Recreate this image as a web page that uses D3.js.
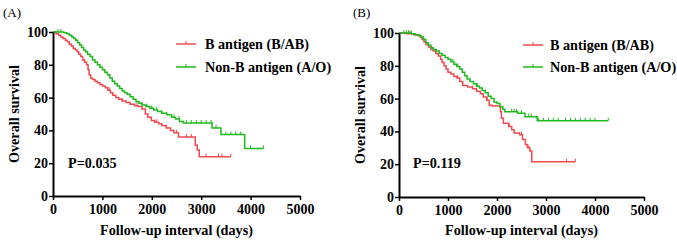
<!DOCTYPE html>
<html><head><meta charset="utf-8">
<script src="https://cdn.jsdelivr.net/npm/d3@7"></script>
<style>
body{margin:0;background:#fff;}
svg{display:block;font-family:"Liberation Serif","Times New Roman",serif;}
</style></head>
<body><svg id="c" width="677" height="241"></svg>
<script>
const xTicks=[0,1000,2000,3000,4000,5000];
const yTicks=[0,20,40,60,80,100];
const seriesNames=["B antigen (B/AB)","Non-B antigen (A/O)"];
const seriesColors=["#ee4a50","#1fb81f"];
const panelLabels=["(A)","(B)"];
const pValues=["P=0.035","P=0.119"];

// Panel A
const aRedSteps=[[0,100],[60,99],[110,98],[160,97],[200,96],[250,95],[290,94],[330,92.5],[370,91.5],[410,90],[450,89],[490,88],[520,86.5],[560,85],[600,83],[640,81.5],[680,80],[710,77],[730,74],[760,72],[800,71],[850,70],[900,69],[950,68],[1000,67],[1060,66],[1110,64.5],[1160,63],[1210,61.5],[1270,60],[1330,59],[1400,58],[1480,57],[1560,56],[1650,55],[1720,54.5],[1800,53],[1870,50],[1920,48],[1990,46],[2060,45],[2140,44],[2200,43],[2290,41.5],[2380,40],[2450,38.5],[2540,36],[2880,31],[2920,28],[2960,24]];
const aRedEnd=3600;
const aRedCens=[1150,1400,1700,2100,2300,2500,2700,2800,3100,3350,3420,3600];
const aGreenSteps=[[0,100],[220,99.5],[280,99],[330,98],[380,97],[420,96],[460,95],[500,93.5],[540,92],[580,90.5],[620,89],[660,88],[700,86.5],[750,85],[800,83],[850,81.5],[900,80],[950,78.5],[1000,77],[1050,75.5],[1100,74],[1150,72],[1200,70],[1250,68.5],[1300,67],[1350,65.5],[1400,64],[1450,63],[1500,62],[1560,60.5],[1620,59],[1680,57.5],[1740,56.5],[1800,55.5],[1880,54.5],[1960,53.5],[2040,52.5],[2120,51.5],[2200,50.5],[2300,49.5],[2400,48],[2480,47],[2560,45.5],[2640,44.5],[3220,41.5],[3400,37.5],[3880,29]];
const aGreenEnd=4260;
const aGreenCens=[100,160,1800,1900,2000,2100,2200,2300,2450,2550,2700,2800,2900,3000,3100,3200,3300,3500,3600,3700,3800,4000,4260];

// Panel B
const bRedSteps=[[0,100],[150,99.5],[300,99],[380,98.5],[430,97.5],[470,96],[510,94.5],[550,93],[600,91.5],[650,90],[700,89],[750,87.5],[800,86],[850,84],[880,82],[920,80],[960,78],[1000,76],[1060,75],[1120,73.5],[1180,72.5],[1240,70.5],[1300,68],[1400,67],[1500,66],[1580,64.5],[1660,63],[1720,61],[1790,59],[1840,56],[1900,55.5],[2070,52],[2090,48],[2130,45],[2240,43],[2300,41],[2350,39],[2460,38],[2520,35],[2580,32],[2620,30],[2670,28],[2710,21.5]];
const bRedEnd=3600;
const bRedCens=[200,250,1200,1500,1800,2250,2500,2650,3420,3600];
const bGreenSteps=[[0,100],[250,99.5],[330,99],[400,98.5],[450,97.5],[500,96],[550,94],[600,92.5],[650,91],[700,90],[760,89],[820,87.5],[880,86.5],[940,85],[1000,84],[1060,82.5],[1120,81],[1180,79.5],[1240,78],[1290,76],[1340,74],[1390,72],[1450,70.5],[1520,69],[1580,67.5],[1640,66.5],[1700,65],[1760,63.5],[1820,61.5],[1880,60],[1940,58],[2000,57],[2060,55],[2120,53.5],[2160,52],[2420,51],[2570,49],[2820,46.5]];
const bGreenEnd=4270;
const bGreenCens=[100,150,200,250,1100,1200,1600,1700,2300,2350,2400,2500,2650,2700,2850,2950,3050,3150,3250,3400,3500,3600,3700,3800,3900,4000,4270];

const panels=[
 {x0:53,x1:300,y0:196,y1:32,legX:176,legTX:205,legY:[44,67],pX:68,series:[[aRedSteps,aRedEnd,aRedCens],[aGreenSteps,aGreenEnd,aGreenCens]],labX:3},
 {x0:399,x1:644,y0:197,y1:33,legX:523,legTX:550,legY:[45,67],pX:413,series:[[bRedSteps,bRedEnd,bRedCens],[bGreenSteps,bGreenEnd,bGreenCens]],labX:353}
];
const svg=d3.select("#c");

function survAt(steps,t){let s=steps[0][1];for(const p of steps){if(p[0]<=t)s=p[1];}return s;}

panels.forEach((P,i)=>{
 const g=svg.append("g");
 const x=d3.scaleLinear().domain([0,5000]).range([P.x0,P.x1]);
 const y=d3.scaleLinear().domain([0,100]).range([P.y0,P.y1]);
 g.append("text").attr("x",P.labX).attr("y",17).attr("font-size",13).text(panelLabels[i]);
 P.series.forEach((S,k)=>{
  const [steps,end,cens]=S;
  const pts=steps.concat([[end,steps[steps.length-1][1]]]);
  const line=d3.line().x(d=>x(d[0])).y(d=>y(d[1])).curve(d3.curveStepAfter);
  g.append("path").attr("d",line(pts)).attr("fill","none").attr("stroke",seriesColors[k]).attr("stroke-width",1.5);
  g.selectAll(null).data(cens).enter().append("line")
   .attr("x1",d=>x(d)).attr("x2",d=>x(d))
   .attr("y1",d=>y(survAt(steps,d))).attr("y2",d=>y(survAt(steps,d))-3)
   .attr("stroke",seriesColors[k]).attr("stroke-width",1);
  const ly=P.legY[k];
  g.append("line").attr("x1",P.legX).attr("x2",P.legX+20).attr("y1",ly).attr("y2",ly).attr("stroke",seriesColors[k]).attr("stroke-width",1.5);
  g.append("line").attr("x1",P.legX+10).attr("x2",P.legX+10).attr("y1",ly).attr("y2",ly-3).attr("stroke",seriesColors[k]).attr("stroke-width",1);
  g.append("text").attr("x",P.legTX).attr("y",ly+5).attr("font-size",14.2).attr("font-weight","bold").text(seriesNames[k]);
 });
 const xa=g.append("g").attr("transform",`translate(0,${P.y0})`).call(d3.axisBottom(x).tickValues(xTicks).tickFormat(d3.format("d")).tickSize(4).tickSizeOuter(0).tickPadding(4));
 const ya=g.append("g").attr("transform",`translate(${P.x0},0)`).call(d3.axisLeft(y).tickValues(yTicks).tickFormat(d3.format("d")).tickSize(4).tickSizeOuter(0).tickPadding(1));
 [xa,ya].forEach(a=>{
  a.select(".domain").attr("stroke","#000").attr("stroke-width",2);
  a.selectAll(".tick line").attr("stroke","#000").attr("stroke-width",1.5);
  a.selectAll(".tick text").attr("font-family","Liberation Serif").attr("font-weight","bold").attr("font-size",14).attr("fill","#000");
 });
 g.append("text").attr("x",(P.x0+P.x1)/2).attr("y",235).attr("text-anchor","middle").attr("font-size",14.2).attr("font-weight","bold").text("Follow-up interval (days)");
 g.append("text").attr("transform",`translate(${P.x0-34},${(P.y0+P.y1)/2}) rotate(-90)`).attr("text-anchor","middle").attr("font-size",14.2).attr("font-weight","bold").text("Overall survival");
 g.append("text").attr("x",P.pX).attr("y",168).attr("font-size",14.2).attr("font-weight","bold").text(pValues[i]);
});
</script></body></html>
